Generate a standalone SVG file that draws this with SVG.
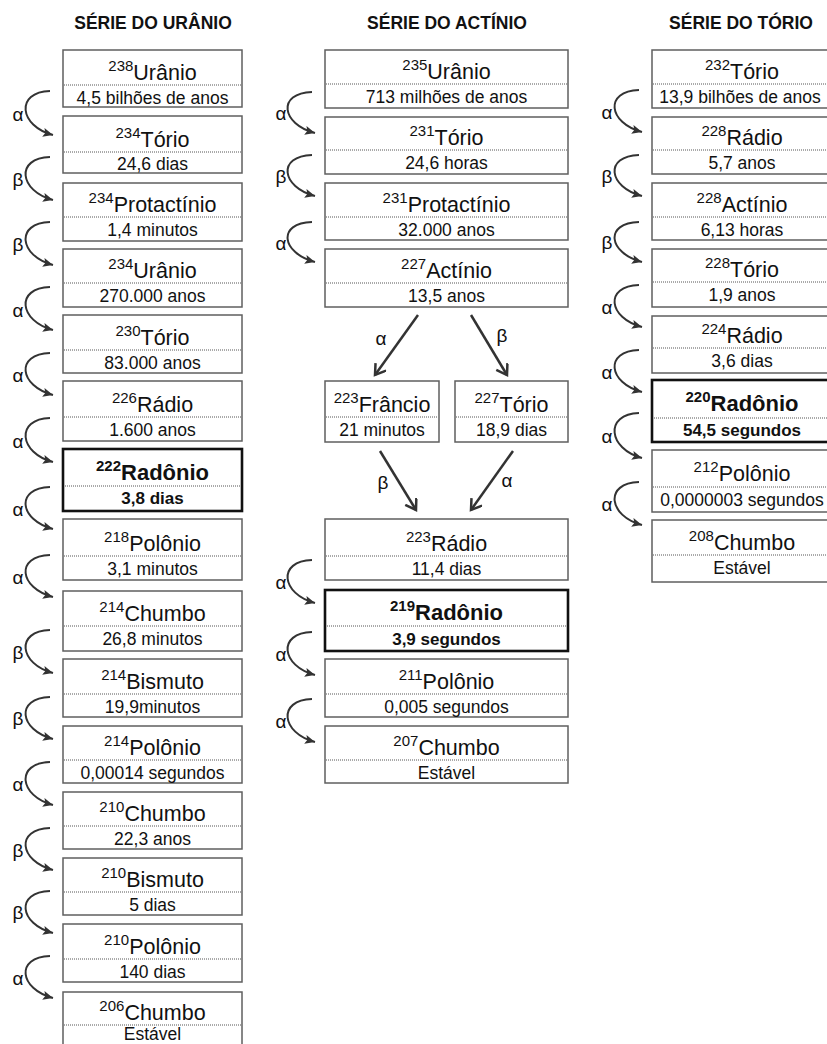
<svg xmlns="http://www.w3.org/2000/svg" width="827" height="1044" viewBox="0 0 827 1044">
<style>
text{font-family:"Liberation Sans",Arial,sans-serif;fill:#111;text-anchor:middle}
.box{fill:#fff;stroke:#5f5f5f;stroke-width:1.5}
.boxb{fill:#fff;stroke:#111;stroke-width:2.6}
.dot{stroke:#555;stroke-width:1;stroke-dasharray:1 1}
.nm{font-size:21.5px}
.nmb{font-size:22px;font-weight:bold}
.sup{font-size:15px}
.hl{font-size:17.5px}
.hlb{font-size:17px;font-weight:bold}
.title{font-size:17.5px;font-weight:bold}
.lab{font-size:19px}
.arc{fill:none;stroke:#333;stroke-width:2;marker-end:url(#ah)}
.dia{fill:none;stroke:#333;stroke-width:2.5;marker-end:url(#ch)}
</style>
<defs>
<marker id="ah" markerUnits="userSpaceOnUse" markerWidth="12" markerHeight="10" refX="10" refY="4.5" orient="auto"><path d="M0,0 L10,4.5 L0,9 L2,4.5 z" fill="#333"/></marker>
<marker id="ch" markerUnits="userSpaceOnUse" markerWidth="16" markerHeight="16" refX="11" refY="7" orient="auto"><path d="M1,0.5 L11,7 L1,13.5" fill="none" stroke="#333" stroke-width="2.5"/></marker>
</defs>
<rect width="827" height="1044" fill="#fff"/>
<g id="titles">
<text class="title" x="153" y="29">SÉRIE DO URÂNIO</text>
<text class="title" x="447" y="29">SÉRIE DO ACTÍNIO</text>
<text class="title" x="741" y="29">SÉRIE DO TÓRIO</text>
</g>
<!-- Uranium series -->
<g id="u238"><rect class="box" x="63" y="50" width="179" height="57"/><line class="dot" x1="64" y1="85" x2="241" y2="85"/><text class="nm" x="152.5" y="80"><tspan class="sup" dy="-9">238</tspan><tspan dy="9">Urânio</tspan></text><text class="hl" x="152.5" y="103.5">4,5 bilhões de anos</text></g>
<g id="th234"><rect class="box" x="63" y="116" width="179" height="57"/><line class="dot" x1="64" y1="152" x2="241" y2="152"/><text class="nm" x="152.5" y="147"><tspan class="sup" dy="-9">234</tspan><tspan dy="9">Tório</tspan></text><text class="hl" x="152.5" y="170">24,6 dias</text></g>
<g id="pa234"><rect class="box" x="63" y="183" width="179" height="58"/><line class="dot" x1="64" y1="217" x2="241" y2="217"/><text class="nm" x="152.5" y="212"><tspan class="sup" dy="-9">234</tspan><tspan dy="9">Protactínio</tspan></text><text class="hl" x="152.5" y="235.5">1,4 minutos</text></g>
<g id="u234"><rect class="box" x="63" y="249" width="179" height="58"/><line class="dot" x1="64" y1="283" x2="241" y2="283"/><text class="nm" x="152.5" y="278"><tspan class="sup" dy="-9">234</tspan><tspan dy="9">Urânio</tspan></text><text class="hl" x="152.5" y="301.5">270.000 anos</text></g>
<g id="th230"><rect class="box" x="63" y="315" width="179" height="58"/><line class="dot" x1="64" y1="350" x2="241" y2="350"/><text class="nm" x="152.5" y="345"><tspan class="sup" dy="-9">230</tspan><tspan dy="9">Tório</tspan></text><text class="hl" x="152.5" y="368.5">83.000 anos</text></g>
<g id="ra226"><rect class="box" x="63" y="381" width="179" height="60"/><line class="dot" x1="64" y1="417" x2="241" y2="417"/><text class="nm" x="152.5" y="412"><tspan class="sup" dy="-9">226</tspan><tspan dy="9">Rádio</tspan></text><text class="hl" x="152.5" y="435.5">1.600 anos</text></g>
<g id="rn222"><rect class="boxb" x="63" y="449" width="179" height="62"/><line class="dot" x1="65" y1="486" x2="240" y2="486"/><text class="nmb" x="152.5" y="480"><tspan class="sup" dy="-9">222</tspan><tspan dy="9">Radônio</tspan></text><text class="hlb" x="152.5" y="504">3,8 dias</text></g>
<g id="po218"><rect class="box" x="63" y="519" width="179" height="61"/><line class="dot" x1="64" y1="556" x2="241" y2="556"/><text class="nm" x="152.5" y="551"><tspan class="sup" dy="-9">218</tspan><tspan dy="9">Polônio</tspan></text><text class="hl" x="152.5" y="575">3,1 minutos</text></g>
<g id="pb214"><rect class="box" x="63" y="591" width="179" height="60"/><line class="dot" x1="64" y1="626" x2="241" y2="626"/><text class="nm" x="152.5" y="621"><tspan class="sup" dy="-9">214</tspan><tspan dy="9">Chumbo</tspan></text><text class="hl" x="152.5" y="644.5">26,8 minutos</text></g>
<g id="bi214"><rect class="box" x="63" y="659" width="179" height="58"/><line class="dot" x1="64" y1="694" x2="241" y2="694"/><text class="nm" x="152.5" y="689"><tspan class="sup" dy="-9">214</tspan><tspan dy="9">Bismuto</tspan></text><text class="hl" x="152.5" y="712.5">19,9minutos</text></g>
<g id="po214"><rect class="box" x="63" y="726" width="179" height="57"/><line class="dot" x1="64" y1="760" x2="241" y2="760"/><text class="nm" x="152.5" y="755"><tspan class="sup" dy="-9">214</tspan><tspan dy="9">Polônio</tspan></text><text class="hl" x="152.5" y="778.5">0,00014 segundos</text></g>
<g id="pb210"><rect class="box" x="63" y="792" width="179" height="57"/><line class="dot" x1="64" y1="826" x2="241" y2="826"/><text class="nm" x="152.5" y="821"><tspan class="sup" dy="-9">210</tspan><tspan dy="9">Chumbo</tspan></text><text class="hl" x="152.5" y="844.5">22,3 anos</text></g>
<g id="bi210"><rect class="box" x="63" y="858" width="179" height="57"/><line class="dot" x1="64" y1="892" x2="241" y2="892"/><text class="nm" x="152.5" y="887"><tspan class="sup" dy="-9">210</tspan><tspan dy="9">Bismuto</tspan></text><text class="hl" x="152.5" y="910.5">5 dias</text></g>
<g id="po210"><rect class="box" x="63" y="924" width="179" height="58"/><line class="dot" x1="64" y1="959" x2="241" y2="959"/><text class="nm" x="152.5" y="954"><tspan class="sup" dy="-9">210</tspan><tspan dy="9">Polônio</tspan></text><text class="hl" x="152.5" y="977.5">140 dias</text></g>
<g id="pb206"><rect class="box" x="63" y="992" width="179" height="60"/><line class="dot" x1="64" y1="1025" x2="241" y2="1025"/><text class="nm" x="152.5" y="1020"><tspan class="sup" dy="-9">206</tspan><tspan dy="9">Chumbo</tspan></text><text class="hl" x="152.5" y="1039.5">Estável</text></g>
<!-- Actinium series -->
<g id="u235"><rect class="box" x="325" y="50" width="243" height="58"/><line class="dot" x1="326" y1="84" x2="567" y2="84"/><text class="nm" x="446.5" y="79"><tspan class="sup" dy="-9">235</tspan><tspan dy="9">Urânio</tspan></text><text class="hl" x="446.5" y="102.5">713 milhões de anos</text></g>
<g id="th231"><rect class="box" x="325" y="117" width="243" height="57"/><line class="dot" x1="326" y1="150" x2="567" y2="150"/><text class="nm" x="446.5" y="145"><tspan class="sup" dy="-9">231</tspan><tspan dy="9">Tório</tspan></text><text class="hl" x="446.5" y="168.5">24,6 horas</text></g>
<g id="pa231"><rect class="box" x="325" y="183" width="243" height="57"/><line class="dot" x1="326" y1="217" x2="567" y2="217"/><text class="nm" x="446.5" y="212"><tspan class="sup" dy="-9">231</tspan><tspan dy="9">Protactínio</tspan></text><text class="hl" x="446.5" y="235.5">32.000 anos</text></g>
<g id="ac227"><rect class="box" x="325" y="249" width="243" height="58"/><line class="dot" x1="326" y1="283" x2="567" y2="283"/><text class="nm" x="446.5" y="278"><tspan class="sup" dy="-9">227</tspan><tspan dy="9">Actínio</tspan></text><text class="hl" x="446.5" y="301.5">13,5 anos</text></g>
<g id="fr223"><rect class="box" x="325" y="381" width="114" height="61"/><line class="dot" x1="326" y1="417" x2="438" y2="417"/><text class="nm" x="382" y="412"><tspan class="sup" dy="-9">223</tspan><tspan dy="9">Frâncio</tspan></text><text class="hl" x="382" y="436">21 minutos</text></g>
<g id="th227"><rect class="box" x="455" y="381" width="113" height="61"/><line class="dot" x1="456" y1="417" x2="567" y2="417"/><text class="nm" x="511.5" y="412"><tspan class="sup" dy="-9">227</tspan><tspan dy="9">Tório</tspan></text><text class="hl" x="511.5" y="436">18,9 dias</text></g>
<g id="ra223"><rect class="box" x="325" y="519" width="243" height="61"/><line class="dot" x1="326" y1="556" x2="567" y2="556"/><text class="nm" x="446.5" y="551"><tspan class="sup" dy="-9">223</tspan><tspan dy="9">Rádio</tspan></text><text class="hl" x="446.5" y="575">11,4 dias</text></g>
<g id="rn219"><rect class="boxb" x="325" y="590" width="243" height="61"/><line class="dot" x1="327" y1="626" x2="566" y2="626"/><text class="nmb" x="446.5" y="620"><tspan class="sup" dy="-9">219</tspan><tspan dy="9">Radônio</tspan></text><text class="hlb" x="446.5" y="644.5">3,9 segundos</text></g>
<g id="po211"><rect class="box" x="325" y="659" width="243" height="58"/><line class="dot" x1="326" y1="694" x2="567" y2="694"/><text class="nm" x="446.5" y="689"><tspan class="sup" dy="-9">211</tspan><tspan dy="9">Polônio</tspan></text><text class="hl" x="446.5" y="712.5">0,005 segundos</text></g>
<g id="pb207"><rect class="box" x="325" y="726" width="243" height="57"/><line class="dot" x1="326" y1="760" x2="567" y2="760"/><text class="nm" x="446.5" y="755"><tspan class="sup" dy="-9">207</tspan><tspan dy="9">Chumbo</tspan></text><text class="hl" x="446.5" y="778.5">Estável</text></g>
<!-- Thorium series -->
<g id="th232"><rect class="box" x="652" y="50" width="180" height="58"/><line class="dot" x1="653" y1="84" x2="831" y2="84"/><text class="nm" x="742" y="79"><tspan class="sup" dy="-9">232</tspan><tspan dy="9">Tório</tspan></text><text class="hl" x="740" y="102.5">13,9 bilhões de anos</text></g>
<g id="ra228"><rect class="box" x="652" y="117" width="180" height="57"/><line class="dot" x1="653" y1="150" x2="831" y2="150"/><text class="nm" x="742" y="145"><tspan class="sup" dy="-9">228</tspan><tspan dy="9">Rádio</tspan></text><text class="hl" x="742" y="168.5">5,7 anos</text></g>
<g id="ac228"><rect class="box" x="652" y="183" width="180" height="57"/><line class="dot" x1="653" y1="217" x2="831" y2="217"/><text class="nm" x="742" y="212"><tspan class="sup" dy="-9">228</tspan><tspan dy="9">Actínio</tspan></text><text class="hl" x="742" y="235.5">6,13 horas</text></g>
<g id="th228"><rect class="box" x="652" y="249" width="180" height="58"/><line class="dot" x1="653" y1="282" x2="831" y2="282"/><text class="nm" x="742" y="277"><tspan class="sup" dy="-9">228</tspan><tspan dy="9">Tório</tspan></text><text class="hl" x="742" y="300.5">1,9 anos</text></g>
<g id="ra224"><rect class="box" x="652" y="316" width="180" height="57"/><line class="dot" x1="653" y1="348" x2="831" y2="348"/><text class="nm" x="742" y="343"><tspan class="sup" dy="-9">224</tspan><tspan dy="9">Rádio</tspan></text><text class="hl" x="742" y="366.5">3,6 dias</text></g>
<g id="rn220"><rect class="boxb" x="652" y="380" width="180" height="62"/><line class="dot" x1="654" y1="418" x2="831" y2="418"/><text class="nmb" x="742" y="411"><tspan class="sup" dy="-9">220</tspan><tspan dy="9">Radônio</tspan></text><text class="hlb" x="742" y="436">54,5 segundos</text></g>
<g id="po212"><rect class="box" x="652" y="450" width="180" height="62"/><line class="dot" x1="653" y1="487" x2="831" y2="487"/><text class="nm" x="742" y="481"><tspan class="sup" dy="-9">212</tspan><tspan dy="9">Polônio</tspan></text><text class="hl" x="742" y="506">0,0000003 segundos</text></g>
<g id="pb208"><rect class="box" x="652" y="520" width="180" height="62"/><line class="dot" x1="653" y1="555" x2="831" y2="555"/><text class="nm" x="742" y="550"><tspan class="sup" dy="-9">208</tspan><tspan dy="9">Chumbo</tspan></text><text class="hl" x="742" y="574">Estável</text></g>
<g id="connectors">
<!-- Uranium arcs, L=63 -->
<path class="arc" d="M50,91 C15,92 19,126 53,135"/>
<path class="arc" d="M50,157 C15,158 19,191 53,200"/>
<path class="arc" d="M50,222 C15,223 19,256 53,265"/>
<path class="arc" d="M50,287 C15,288 19,321 53,330"/>
<path class="arc" d="M50,353 C15,354 19,386 53,395"/>
<path class="arc" d="M50,418 C15,419 19,453 53,462"/>
<path class="arc" d="M50,487 C15,488 19,520 53,529"/>
<path class="arc" d="M50,555 C15,556 19,588 53,597"/>
<path class="arc" d="M50,630 C15,631 19,664 53,673"/>
<path class="arc" d="M50,697 C15,698 19,730 53,739"/>
<path class="arc" d="M50,762 C15,763 19,796 53,805"/>
<path class="arc" d="M50,828 C15,829 19,861 53,870"/>
<path class="arc" d="M50,891 C15,892 19,924 53,933"/>
<path class="arc" d="M50,956 C15,957 19,989 53,998"/>
<!-- Actinium arcs, L=325 -->
<path class="arc" d="M312,92 C277,93 281,124 315,133"/>
<path class="arc" d="M312,155 C277,156 281,187 315,196"/>
<path class="arc" d="M312,222 C277,223 281,253 315,262"/>
<path class="arc" d="M312,560 C277,561 281,594 315,603"/>
<path class="arc" d="M312,632 C277,633 281,666 315,675"/>
<path class="arc" d="M312,699 C277,700 281,733 315,742"/>
<!-- Thorium arcs, L=652 -->
<path class="arc" d="M639,90 C604,91 608,123 642,132"/>
<path class="arc" d="M639,155 C604,156 608,187 642,196"/>
<path class="arc" d="M639,222 C604,223 608,253 642,262"/>
<path class="arc" d="M639,285 C604,286 608,318 642,327"/>
<path class="arc" d="M639,350 C604,351 608,383 642,392"/>
<path class="arc" d="M639,413 C604,414 608,449 642,458"/>
<path class="arc" d="M639,482 C604,483 608,516 642,525"/>
<!-- branch arrows -->
<line class="dia" x1="418" y1="315" x2="375" y2="375"/>
<line class="dia" x1="471" y1="315" x2="507" y2="375"/>
<line class="dia" x1="380" y1="451" x2="416" y2="510"/>
<line class="dia" x1="513" y1="451" x2="471" y2="510"/>
<!-- labels -->
<text class="lab" x="18" y="121">α</text>
<text class="lab" x="18" y="186">β</text>
<text class="lab" x="18" y="251">β</text>
<text class="lab" x="18" y="317">α</text>
<text class="lab" x="18" y="382">α</text>
<text class="lab" x="18" y="448">α</text>
<text class="lab" x="18" y="516">α</text>
<text class="lab" x="18" y="584">α</text>
<text class="lab" x="18" y="659">β</text>
<text class="lab" x="18" y="725">β</text>
<text class="lab" x="18" y="791">α</text>
<text class="lab" x="18" y="857">β</text>
<text class="lab" x="18" y="919">β</text>
<text class="lab" x="18" y="985">α</text>
<text class="lab" x="281" y="120">α</text>
<text class="lab" x="281" y="183">β</text>
<text class="lab" x="281" y="250">α</text>
<text class="lab" x="281" y="589">α</text>
<text class="lab" x="281" y="661">α</text>
<text class="lab" x="281" y="728">α</text>
<text class="lab" x="607" y="119">α</text>
<text class="lab" x="607" y="183">β</text>
<text class="lab" x="607" y="249">β</text>
<text class="lab" x="607" y="314">α</text>
<text class="lab" x="607" y="379">α</text>
<text class="lab" x="607" y="443">α</text>
<text class="lab" x="607" y="511">α</text>
<text class="lab" x="381" y="345">α</text>
<text class="lab" x="502" y="342">β</text>
<text class="lab" x="383" y="489">β</text>
<text class="lab" x="507" y="487">α</text>
</g>
</svg>
